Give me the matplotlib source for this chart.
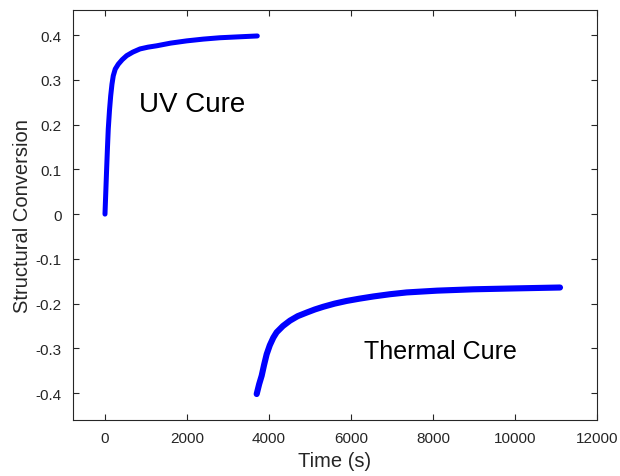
import matplotlib
matplotlib.use("Agg")
import matplotlib.pyplot as plt

plt.rcParams['font.family'] = ['Liberation Sans', 'DejaVu Sans']

uv_time = [0, 20, 40, 60, 80, 110, 139, 170, 202, 250, 325, 420, 529, 680, 854, 1050, 1260, 1600, 1992, 2400, 2800, 3250, 3715]
uv_conv = [0.0, 0.05, 0.10, 0.147, 0.19, 0.232, 0.264, 0.290, 0.309, 0.324, 0.335, 0.345, 0.354, 0.362, 0.369, 0.373, 0.376, 0.382, 0.387, 0.391, 0.394, 0.396, 0.398]

th_time = [3700, 3760, 3822, 3880, 3944, 4020, 4106, 4187, 4340, 4512, 4700, 4919, 5120, 5325, 5600, 5894, 6200, 6545, 6950, 7358, 8100, 8984, 10000, 11098]
th_conv = [-0.402, -0.380, -0.361, -0.337, -0.313, -0.293, -0.276, -0.264, -0.250, -0.238, -0.228, -0.220, -0.213, -0.207, -0.200, -0.194, -0.189, -0.184, -0.179, -0.175, -0.171, -0.168, -0.166, -0.164]

x_ticks = [0, 2000, 4000, 6000, 8000, 10000, 12000]
y_ticks = [-0.4, -0.3, -0.2, -0.1, 0, 0.1, 0.2, 0.3, 0.4]
y_labels = ['-0.4', '-0.3', '-0.2', '-0.1', '0', '0.1', '0.2', '0.3', '0.4']

fig = plt.figure(figsize=(6.2, 4.77), dpi=100)
ax = fig.add_axes([73/620, 56/477, (597-73)/620, (421-11)/477])

line_kw = dict(color='#0000ff', solid_capstyle='round', solid_joinstyle='round')
ax.plot(uv_time, uv_conv, lw=3.6, **line_kw)
ax.plot(th_time, th_conv, lw=4.4, **line_kw)

ax.set_xlim(-780, 12000)
ax.set_ylim(-0.46, 0.456)
ax.set_xticks(x_ticks)
ax.set_xticklabels([str(t) for t in x_ticks])
ax.set_yticks(y_ticks)
ax.set_yticklabels(y_labels)

gray = '#262626'
ax.tick_params(direction='in', top=True, right=True, length=4, width=0.8,
               colors=gray, labelsize=11, pad=8)
for s in ax.spines.values():
    s.set_color(gray)
    s.set_linewidth(0.8)

ax.set_xlabel('Time (s)', fontsize=14.5, color=gray, labelpad=4)
ax.set_ylabel('Structural Conversion', fontsize=14.5, color=gray, labelpad=3)

ax.text(2115, 0.246, 'UV Cure', fontsize=20, ha='center', va='center', color='black')
ax.text(8170, -0.305, 'Thermal Cure', fontsize=18, ha='center', va='center', color='black')

fig.savefig('out.png', dpi=100)
